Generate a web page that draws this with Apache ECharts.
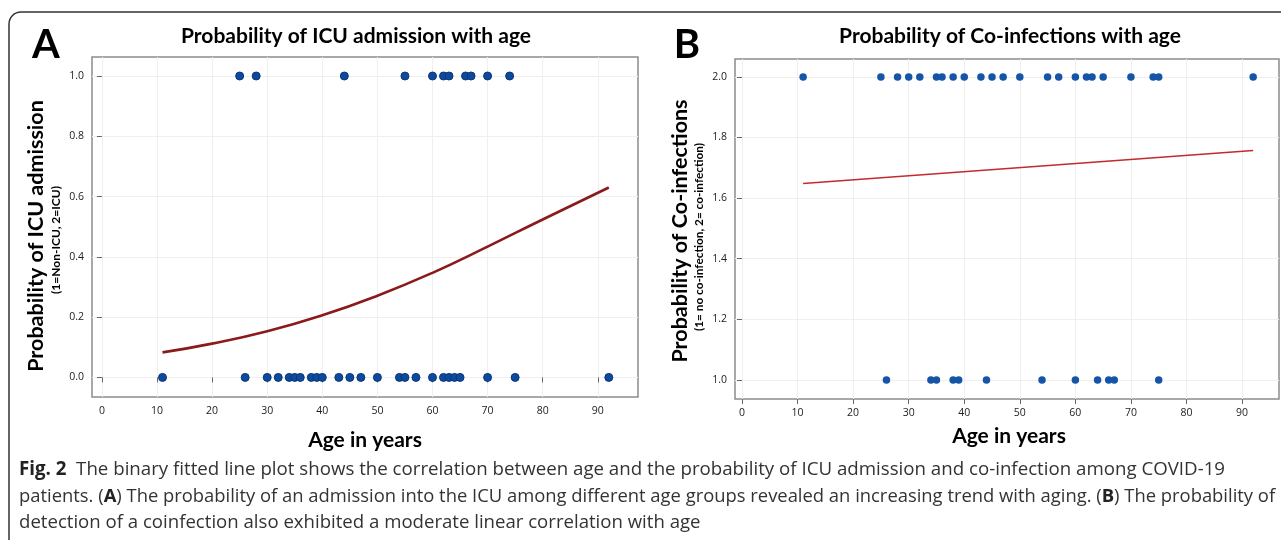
<!DOCTYPE html>
<html><head><meta charset="utf-8">
<script src="https://cdn.jsdelivr.net/npm/echarts@6/dist/echarts.min.js"></script>
<style>html,body{margin:0;padding:0;background:#fff}#c{width:1281px;height:540px}</style>
</head><body><div id="c"></div>
<script>
// Panel A: ICU admission (0 = non-ICU, 1 = ICU)
const icuAgesTop = [25, 28, 44, 55, 60, 62, 63, 66, 67, 70, 74];
const icuAgesBottom = [11, 26, 30, 32, 34, 35, 36, 38, 39, 40, 43, 45, 47, 50, 54, 55, 57, 60, 62, 63, 64, 65, 70, 75, 92];
const icuFitAges = [11, 20, 30, 40, 50, 60, 70, 80, 92];
const icuFitProb = [0.083, 0.112, 0.153, 0.206, 0.271, 0.347, 0.434, 0.524, 0.63];
// Panel B: co-infection (1 = no, 2 = yes)
const coAgesTop = [11, 25, 28, 30, 32, 35, 36, 38, 40, 43, 45, 47, 50, 55, 57, 60, 62, 63, 65, 70, 74, 75, 92];
const coAgesBottom = [26, 34, 35, 38, 39, 44, 54, 60, 64, 66, 67, 75];
const coFitAges = [11, 92];
const coFitProb = [1.648, 1.757];
// Tick labels
const xTicks = [0, 10, 20, 30, 40, 50, 60, 70, 80, 90];
const yTicksA = [0, 0.2, 0.4, 0.6, 0.8, 1.0];
const yTicksB = [1.0, 1.2, 1.4, 1.6, 1.8, 2.0];

const chart = echarts.init(document.getElementById('c'));
const TF = 'Lato, "Open Sans", sans-serif';
const CF = '"Liberation Sans Narrow", "Open Sans", sans-serif';
const lbl = {fontSize: 10.5, color: '#222', fontFamily: '"Open Sans", sans-serif'};

function xAxis(idx, min, max) {
  return {type: 'value', gridIndex: idx, min: min, max: max,
    axisLine: {show: false},
    axisTick: {show: true, length: 5, lineStyle: {color: '#666'}, customValues: xTicks},
    axisLabel: Object.assign({customValues: xTicks, margin: 9}, lbl),
    splitLine: {show: true, lineStyle: {color: '#efefef', width: 1}}};
}
function yAxis(idx, min, max, ticks) {
  return {type: 'value', gridIndex: idx, min: min, max: max,
    axisLine: {show: false},
    axisTick: {show: true, length: 5, lineStyle: {color: '#666'}, customValues: ticks},
    axisLabel: Object.assign({customValues: ticks, margin: 8, formatter: v => v.toFixed(1)}, lbl),
    splitLine: {show: true, lineStyle: {color: '#efefef', width: 1}}};
}
const gridStyle = {show: true, borderColor: '#8c8c8c', borderWidth: 1.5, backgroundColor: '#fff'};

const option = {
  animation: false,
  backgroundColor: '#fff',
  grid: [
    Object.assign({left: 92, top: 57, width: 546, height: 340}, gridStyle),
    Object.assign({left: 735, top: 59, width: 544, height: 340}, gridStyle)
  ],
  xAxis: [xAxis(0, -1.8, 97.3), xAxis(1, -1.26, 96.65)],
  yAxis: [yAxis(0, -0.065, 1.063, yTicksA), yAxis(1, 0.937, 2.059, yTicksB)],
  series: [
    {type: 'line', xAxisIndex: 0, yAxisIndex: 0, smooth: true, showSymbol: false, z: 3,
      data: icuFitAges.map((a, i) => [a, icuFitProb[i]]),
      lineStyle: {color: '#8b1a1a', width: 2.6}},
    {type: 'scatter', xAxisIndex: 0, yAxisIndex: 0, symbolSize: 8, z: 4,
      data: icuAgesTop.map(a => [a, 1]).concat(icuAgesBottom.map(a => [a, 0])),
      itemStyle: {color: '#0d4a9e', borderColor: '#0a3678', borderWidth: 1, opacity: 1}},
    {type: 'line', xAxisIndex: 1, yAxisIndex: 1, showSymbol: false, z: 3,
      data: coFitAges.map((a, i) => [a, coFitProb[i]]),
      lineStyle: {color: '#c42a2e', width: 1.6}},
    {type: 'scatter', xAxisIndex: 1, yAxisIndex: 1, symbolSize: 7.5, z: 4,
      data: coAgesTop.map(a => [a, 2]).concat(coAgesBottom.map(a => [a, 1])),
      itemStyle: {color: '#1555a8', opacity: 1}}
  ],
  graphic: [
    {type: 'rect', shape: {x: 9, y: 12, width: 1300, height: 560, r: 12}, z: -10, silent: true,
      style: {fill: 'none', stroke: '#333', lineWidth: 1.5}},
    {type: 'text', x: 46, y: 45, style: {text: 'A', font: 'bold 40px ' + TF, fill: '#000', textAlign: 'center', textVerticalAlign: 'middle'}},
    {type: 'text', x: 687, y: 45, style: {text: 'B', font: 'bold 40px ' + TF, fill: '#000', textAlign: 'center', textVerticalAlign: 'middle'}},
    {type: 'text', x: 356, y: 36, style: {text: 'Probability of ICU admission with age', font: 'bold 21px ' + TF, fill: '#000', textAlign: 'center', textVerticalAlign: 'middle'}},
    {type: 'text', x: 1010, y: 36, style: {text: 'Probability of Co-infections with age', font: 'bold 21px ' + TF, fill: '#000', textAlign: 'center', textVerticalAlign: 'middle'}},
    {type: 'text', x: 36, y: 236, rotation: Math.PI / 2, style: {text: 'Probability of ICU admission', font: 'bold 21.5px ' + TF, fill: '#000', textAlign: 'center', textVerticalAlign: 'middle'}},
    {type: 'text', x: 56, y: 240, rotation: Math.PI / 2, style: {text: '(1=Non-ICU, 2=ICU)', font: 'bold 12px ' + TF, fill: '#000', textAlign: 'center', textVerticalAlign: 'middle'}},
    {type: 'text', x: 680, y: 231, rotation: Math.PI / 2, style: {text: 'Probability of Co-infections', font: 'bold 21.5px ' + TF, fill: '#000', textAlign: 'center', textVerticalAlign: 'middle'}},
    {type: 'text', x: 699, y: 237, rotation: Math.PI / 2, style: {text: '(1= no co-infection, 2= co-infection)', font: 'bold 11.8px ' + TF, fill: '#000', textAlign: 'center', textVerticalAlign: 'middle'}},
    {type: 'text', x: 365, y: 440, style: {text: 'Age in years', font: 'bold 21px ' + TF, fill: '#000', textAlign: 'center', textVerticalAlign: 'middle'}},
    {type: 'text', x: 1009, y: 436, style: {text: 'Age in years', font: 'bold 21px ' + TF, fill: '#000', textAlign: 'center', textVerticalAlign: 'middle'}},
    {type: 'text', x: 19, y: 470, style: {
      text: '{b|Fig. 2}  The binary fitted line plot shows the correlation between age and the probability of ICU admission and co-infection among COVID-19',
      rich: {b: {font: 'bold 18.7px ' + CF, fill: '#222'}},
      font: '18.7px ' + CF, fill: '#333', textVerticalAlign: 'middle'}},
    {type: 'text', x: 19, y: 497, style: {
      text: 'patients. ({b|A}) The probability of an admission into the ICU among different age groups revealed an increasing trend with aging. ({b|B}) The probability of',
      rich: {b: {font: 'bold 18.4px ' + CF, fill: '#222'}},
      font: '18.4px ' + CF, fill: '#333', textVerticalAlign: 'middle'}},
    {type: 'text', x: 19, y: 523, style: {
      text: 'detection of a coinfection also exhibited a moderate linear correlation with age',
      font: '18.6px ' + CF, fill: '#333', textVerticalAlign: 'middle'}}
  ]
};
chart.setOption(option);
</script></body></html>
